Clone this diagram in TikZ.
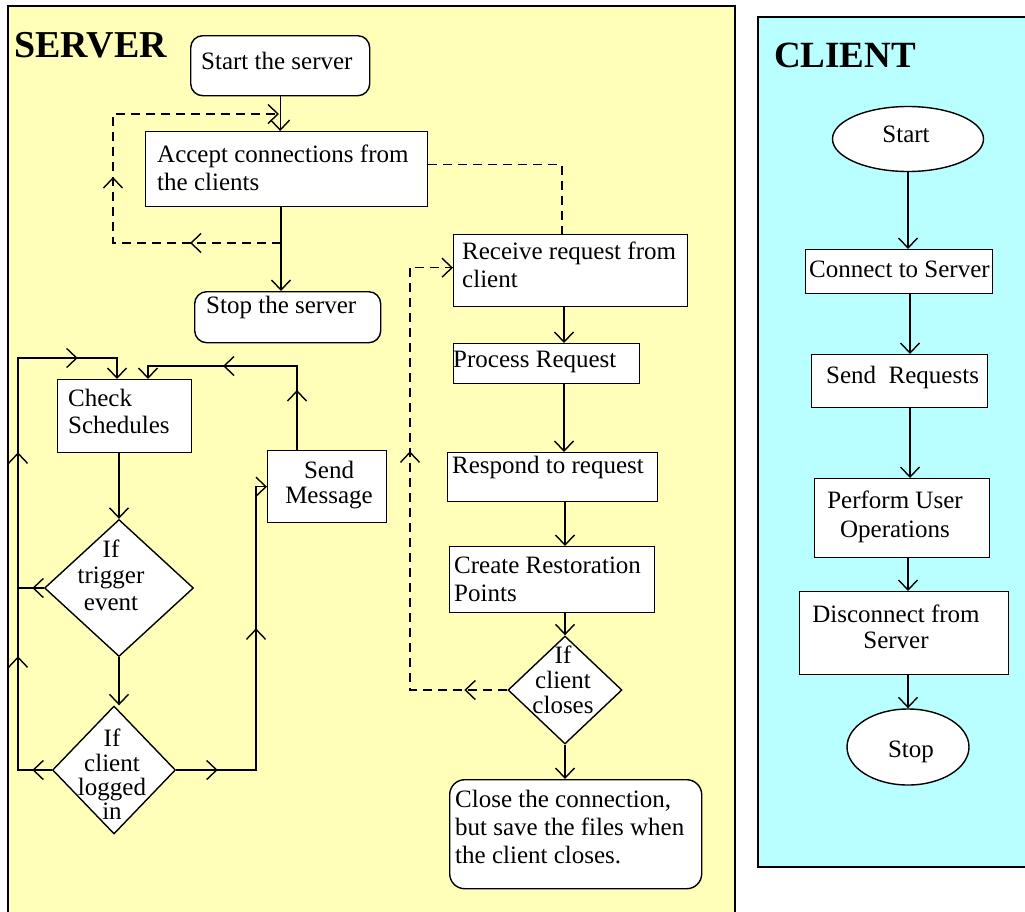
\documentclass[tikz,border=0pt]{standalone}
\usepackage{fontspec}
\setmainfont{Liberation Serif}
\usetikzlibrary{arrows.meta,shapes.geometric,decorations.markings,calc}
\definecolor{srvbg}{RGB}{255,255,185}
\definecolor{clibg}{RGB}{185,255,255}
\newcommand\fsz{\fontsize{25}{28}\selectfont}
\newcommand\barbtip{\arrow{Straight Barb[length=10pt,width=19pt]}}
\begin{document}
\begin{tikzpicture}[x=1pt,y=-1pt,
  panel/.style={draw=black, line width=1.6pt},
  box/.style={draw=black, line width=1.4pt, fill=white, inner sep=0pt, anchor=north west},
  rbox/.style={box, rounded corners=12pt},
  dia/.style={draw=black, line width=1.4pt, fill=white, diamond, inner sep=0pt},
  ell/.style={draw=black, line width=1.4pt, fill=white, ellipse, inner sep=0pt},
  t1/.style={inner sep=0pt, anchor=base west, font=\fsz},
  tm/.style={inner sep=0pt, anchor=north west, align=left, font=\fsz},
  tc/.style={inner sep=0pt, anchor=north, align=center},
  line/.style={line width=1.4pt},
  conn/.style={line, -{Straight Barb[length=10pt,width=19pt]}},
  dline/.style={line, dash pattern=on 9pt off 6pt},
  dconn/.style={conn, dash pattern=on 9pt off 6pt},
  marks/.style={postaction={decorate}, decoration={markings,#1}},
  title/.style={inner sep=0pt, anchor=base west, font=\fontsize{38}{40}\selectfont\bfseries},
]
\useasboundingbox (0,0) rectangle (1025,911);
\clip (0,0) rectangle (1025,911);
% panels
\path[panel, fill=srvbg] (8,6) rectangle (735,935);
\path[panel, fill=clibg] (758,17) rectangle (1045,867);
\node[title] (ttl1) at (14,57) {SERVER};
\node[title, font=\fontsize{37}{40}\selectfont\bfseries] (ttl2) at (774,67) {CLIENT};

% server boxes
\node[rbox, minimum width=179pt, minimum height=60pt] (start) at (190,35) {};
\node[box, minimum width=282pt, minimum height=75pt] (accept) at (145,131) {};
\node[rbox, minimum width=186pt, minimum height=51pt] (stop) at (194,291) {};
\node[box, minimum width=234pt, minimum height=72pt] (recv) at (453,234) {};
\node[box, minimum width=186pt, minimum height=40pt] (proc) at (453,343) {};
\node[box, minimum width=210pt, minimum height=49pt] (resp) at (447,452) {};
\node[box, minimum width=205pt, minimum height=66pt] (create) at (449,546) {};
\node[box, rounded corners=15pt, minimum width=252pt, minimum height=109pt] (close) at (449,779) {};
\node[box, minimum width=134pt, minimum height=73pt] (check) at (57,379) {};
\node[box, minimum width=119pt, minimum height=72pt] (send) at (267,450) {};
\node[dia, minimum width=149pt, minimum height=137pt] (trig) at (119,588) {};
\node[dia, minimum width=123pt, minimum height=128pt] (logd) at (114,770) {};
\node[dia, minimum width=114pt, minimum height=108pt] (clcl) at (565,690) {};

% server texts
\node[t1] (tstart) at (201,69) {Start the server};
\node[tm] (taccept) at (157,142.4) {\strut Accept connections from\\the clients};
\node[t1] (tstop) at (206,313) {Stop the server};
\node[tm] (trecv) at (462,239.4) {\strut Receive request from\\client};
\node[t1] (tproc) at (453,367) {Process Request};
\node[t1] (tresp) at (452,473) {Respond to request};
\node[tm] (tcreate) at (454,553.4) {\strut Create Restoration\\Points};
\node[tm] (tclose) at (455,787.4) {\strut Close the connection,\\but save the files when\\the client closes.};
\node[tm, font=\fontsize{25}{27}\selectfont] (tcheck) at (68,387.1) {\strut Check\\Schedules};
\node[tc, font=\fontsize{25}{25}\selectfont] (tsend) at (329,460.5) {\strut Send\\Message};
\node[tc, font=\fontsize{25}{26.5}\selectfont] (ttrig) at (111,538.5) {\strut If\\trigger\\event};
\node[tc, font=\fontsize{25}{24}\selectfont] (tlogd) at (112,728.2) {\strut If\\client\\logged\\in};
\node[tc, font=\fontsize{25}{25}\selectfont] (tclcl) at (563,645.5) {\strut If\\client\\closes};

% client nodes
\node[ell, minimum width=151pt, minimum height=65pt] (cstart) at (908,139) {};
\node[box, minimum width=187pt, minimum height=44pt] (cconn) at (805,249) {};
\node[box, minimum width=176pt, minimum height=53pt] (csend) at (811,354) {};
\node[box, minimum width=175pt, minimum height=79pt] (cperf) at (814,478) {};
\node[box, minimum width=209pt, minimum height=83pt] (cdisc) at (799,591) {};
\node[ell, minimum width=122pt, minimum height=76pt] (cstop) at (908,747) {};
\node[inner sep=0pt, anchor=base, font=\fsz] (tcstart) at (906,142) {Start};
\node[t1] (tcconn) at (809,277) {Connect to Server};
\node[t1] (tcsend) at (826,383) {Send\ \ Requests};
\node[tc, font=\fontsize{25}{29}\selectfont] (tcperf) at (895,487.7) {\strut Perform User\\Operations};
\node[tc, font=\fontsize{25}{26}\selectfont] (tcdisc) at (896,603.8) {\strut Disconnect from\\Server};
\node[inner sep=0pt, anchor=base, font=\fsz] (tcstop) at (911,757) {Stop};

% coordinates
\coordinate (ax) at (281,0);
\coordinate (j0) at (281,243);
\coordinate (j1) at (279,114);
\coordinate (rx) at (564,0);
\coordinate (rx2) at (562,0);
\coordinate (dx) at (410,0);
\coordinate (lx) at (18,358);
\coordinate (ca) at (117,0);
\coordinate (bx) at (256,0);
\coordinate (sx) at (297,366);
\coordinate (cz) at (148,0);
\coordinate (cx) at (910,0);

% server connectors
\draw[conn] (start.south) -- (start.south |- accept.north);
\draw[conn] (accept.south -| ax) -- (stop.north -| ax);
\draw[dconn, marks={mark=at position 91pt with {\barbtip}, mark=at position 234pt with {\barbtip}}]
  (j0) -- (113,243) -- (113,114) -- (j1);
\draw[dline] ([yshift=5pt]accept.east) -| (recv.north -| rx2);
\draw[conn] (recv.south -| rx) -- (proc.north -| rx);
\draw[conn] (proc.south -| rx) -- (resp.north -| rx);
\draw[conn] (resp.south -| clcl.north) -- (create.north -| clcl.north);
\draw[conn] (create.south -| clcl.north) -- (clcl.north);
\draw[conn] (clcl.south) -- (close.north -| clcl.south);
\draw[dconn, marks={mark=at position 43pt with {\barbtip}, mark=at position 336pt with {\barbtip}}]
  (clcl.west) -- (clcl.west -| dx) |- ([yshift=3pt]recv.west);

\draw[conn] (check.south -| trig.north) -- (trig.north);
\draw[conn] (trig.south) -- (trig.south |- logd.north);
\draw[conn, marks={mark=at position 19.5pt with {\barbtip}, mark=at position 147.5pt with {\barbtip}, mark=at position 351.5pt with {\barbtip}, mark=at position 505.5pt with {\barbtip}}]
  (logd.west) -| (lx) -| (check.north -| ca);
\draw[line, marks={mark=at position 11.5pt with {\barbtip}}] (trig.west) -- (trig.west -| lx);
\draw[conn, marks={mark=at position 41.5pt with {\barbtip}, mark=at position 221.5pt with {\barbtip}}]
  (logd.east) -- (logd.east -| bx) |- (send.west);
\draw[conn, marks={mark=at position 60pt with {\barbtip}, mark=at position 158pt with {\barbtip}}]
  (send.north -| sx) -- (sx) -| (check.north -| cz);

% client connectors
\draw[conn] (cstart.south) -- (cconn.north -| cstart.south);
\draw[conn] (cconn.south -| cx) -- (csend.north -| cx);
\draw[conn] (csend.south -| cx) -- (cperf.north -| cx);
\draw[conn] (cperf.south -| cstart.south) -- (cdisc.north -| cstart.south);
\draw[conn] (cdisc.south -| cstart.south) -- (cstop.north);
\end{tikzpicture}
\end{document}
